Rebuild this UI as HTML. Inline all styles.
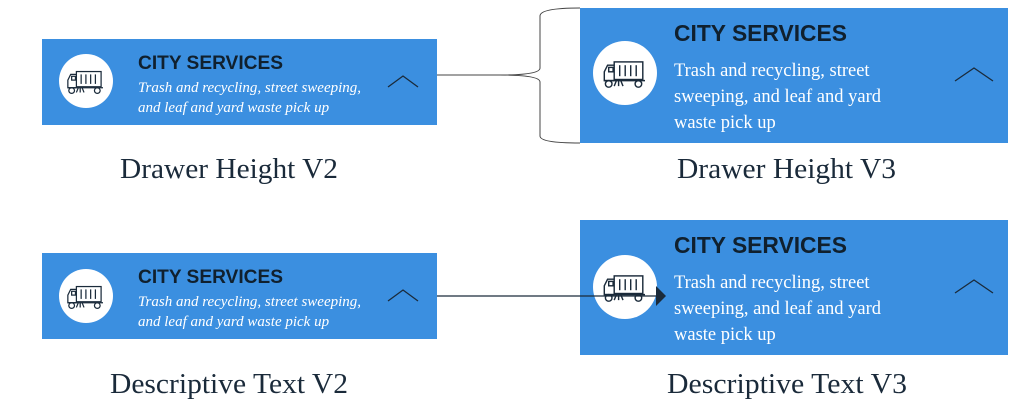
<!DOCTYPE html>
<html><head><meta charset="utf-8"><style>
html,body{margin:0;padding:0;background:#fff;width:1024px;height:408px;overflow:hidden}
</style></head><body>
<svg width="1024" height="408" viewBox="0 0 1024 408" xmlns="http://www.w3.org/2000/svg">
<defs>
<g id="truck" fill="none" stroke="#1a2a3a" stroke-width="1.3">
  <rect x="-8" y="-11" width="26" height="16"/>
  <line x1="-3" y1="-8" x2="-3" y2="2"/><line x1="2" y1="-8" x2="2" y2="2"/><line x1="7" y1="-8" x2="7" y2="2"/><line x1="12" y1="-8" x2="12" y2="2"/>
  <path d="M-8,-8 H-14 L-17,-2 V6 H-8"/>
  <rect x="-13" y="-6" width="4" height="4"/>
  <path d="M-17,6 H20"/>
  <circle cx="-13" cy="9" r="3"/><circle cx="14" cy="9" r="3"/>
  <path d="M-6,6 L-8,11 M-4,6 L-4,11 M-2,6 L0,11"/>
</g>
</defs>
<!-- Box 1 -->
<rect x="42" y="39" width="395" height="86" fill="#3b8fe0"/>
<circle cx="86" cy="81" r="27" fill="#fff"/>
<use href="#truck" transform="translate(84,82) scale(0.95)"/>
<text x="138" y="69" font-family="Liberation Sans, sans-serif" font-weight="bold" font-size="19" fill="#10202e" textLength="145" lengthAdjust="spacingAndGlyphs">CITY SERVICES</text>
<text font-family="Liberation Serif, serif" font-style="italic" font-size="15" fill="#fff"><tspan x="138" y="92">Trash and recycling, street sweeping,</tspan><tspan x="138" y="112">and leaf and yard waste pick up</tspan></text>
<path d="M388,87 L403,76 L418,87" fill="none" stroke="#1a2a3a" stroke-width="1.3"/>

<!-- Box 2 -->
<rect x="580" y="8" width="428" height="135" fill="#3b8fe0"/>
<circle cx="625" cy="73" r="32" fill="#fff"/>
<use href="#truck" transform="translate(623,74) scale(1.1)"/>
<text x="674" y="41" font-family="Liberation Sans, sans-serif" font-weight="bold" font-size="23" fill="#10202e" textLength="173" lengthAdjust="spacingAndGlyphs">CITY SERVICES</text>
<text font-family="Liberation Serif, serif" font-size="18.5" fill="#fff"><tspan x="674" y="76">Trash and recycling, street</tspan><tspan x="674" y="102">sweeping, and leaf and yard</tspan><tspan x="674" y="128">waste pick up</tspan></text>
<path d="M955,81 L974,68 L993,81" fill="none" stroke="#1a2a3a" stroke-width="1.3"/>

<!-- Brace -->
<path d="M437,75 H500 Q540,75 540,68 V16 Q540,8 580,8 M500,75 Q540,75 540,82 V136 Q540,143 580,143" fill="none" stroke="#444" stroke-width="1"/>

<!-- Box 3 -->
<rect x="42" y="253" width="395" height="86" fill="#3b8fe0"/>
<circle cx="86" cy="296" r="27" fill="#fff"/>
<use href="#truck" transform="translate(84,297) scale(0.95)"/>
<text x="138" y="283" font-family="Liberation Sans, sans-serif" font-weight="bold" font-size="19" fill="#10202e" textLength="145" lengthAdjust="spacingAndGlyphs">CITY SERVICES</text>
<text font-family="Liberation Serif, serif" font-style="italic" font-size="15" fill="#fff"><tspan x="138" y="306">Trash and recycling, street sweeping,</tspan><tspan x="138" y="326">and leaf and yard waste pick up</tspan></text>
<path d="M388,301 L403,290 L418,301" fill="none" stroke="#1a2a3a" stroke-width="1.3"/>

<!-- Box 4 -->
<rect x="580" y="220" width="428" height="135" fill="#3b8fe0"/>
<circle cx="625" cy="287" r="32" fill="#fff"/>
<use href="#truck" transform="translate(623,288) scale(1.1)"/>
<text x="674" y="253" font-family="Liberation Sans, sans-serif" font-weight="bold" font-size="23" fill="#10202e" textLength="173" lengthAdjust="spacingAndGlyphs">CITY SERVICES</text>
<text font-family="Liberation Serif, serif" font-size="18.5" fill="#fff"><tspan x="674" y="288">Trash and recycling, street</tspan><tspan x="674" y="314">sweeping, and leaf and yard</tspan><tspan x="674" y="340">waste pick up</tspan></text>
<path d="M955,293 L974,280 L993,293" fill="none" stroke="#1a2a3a" stroke-width="1.3"/>

<!-- Arrow -->
<line x1="437" y1="296" x2="657" y2="296" stroke="#1a2a3a" stroke-width="1.3"/>
<path d="M656,286 L666,296 L656,306 Z" fill="#1a2a3a"/>

<!-- Labels -->
<g font-family="Liberation Serif, serif" font-size="28" fill="#1a2a3a">
<text x="120" y="178" textLength="218" lengthAdjust="spacingAndGlyphs">Drawer Height V2</text>
<text x="677" y="178" textLength="219" lengthAdjust="spacingAndGlyphs">Drawer Height V3</text>
<text x="110" y="393" textLength="238" lengthAdjust="spacingAndGlyphs">Descriptive Text V2</text>
<text x="667" y="393" textLength="240" lengthAdjust="spacingAndGlyphs">Descriptive Text V3</text>
</g>
</svg>
</body></html>
